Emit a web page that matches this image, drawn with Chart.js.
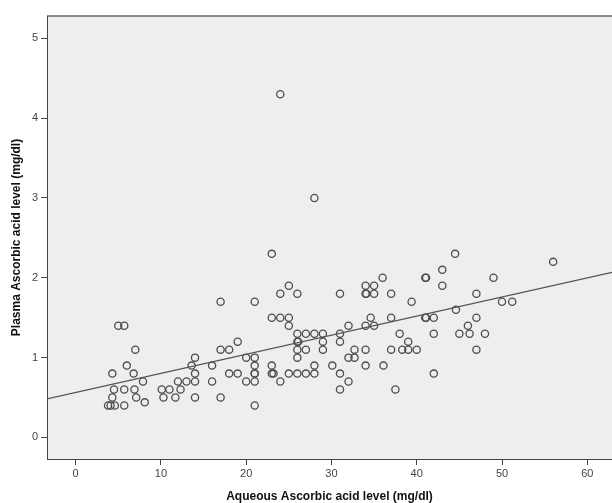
<!DOCTYPE html>
<html lang="en">
<head>
    <meta charset="UTF-8">
    <title>Plasma vs Aqueous Ascorbic acid</title>
    <style>
        * {
            margin: 0;
            padding: 0;
            box-sizing: border-box;
        }
        body {
            background: #ffffff;
        }
        #chart {
            display: block;
        }
    </style>
</head>
<body>
    <canvas id="chart" width="612" height="503"></canvas>

    <script src="https://cdn.jsdelivr.net/npm/chart.js"></script>
    <script>
        // values
        const aqueous = [
            3.8, 4.1, 4.6, 5.7, 4.3, 7.1, 8.1, 4.5, 5.7, 6.9, 7.9, 4.3, 6.8, 6, 7, 5, 5.7,
            10.1, 11, 12.3, 10.3, 11.7, 14, 17, 12, 13, 14, 16, 14, 13.6, 16, 14, 17, 18, 17, 19, 18, 19,
            20, 21, 24, 21, 20, 21, 21, 23, 28, 21, 21, 23, 23.2, 25, 26, 27, 28, 21, 23, 25, 24, 26,
            23, 24, 25, 25, 26, 27, 28, 29, 26, 26.1, 29, 26, 27, 29, 26, 24, 28,
            30.1, 31, 34, 35, 34, 34.1, 35, 36, 34.6, 32, 34, 35, 31, 31, 32.7, 34, 32, 32.7, 34, 31, 32, 31,
            37, 39.4, 37, 38, 39, 37, 38.3, 39, 40, 36.1, 37.5,
            41, 41.1, 41, 41.1, 42, 42, 42, 43, 43, 44.5, 44.6, 45, 46, 46.2, 47, 47, 47, 48, 49, 50, 51.2, 56
        ];
        const plasma = [
            0.4, 0.4, 0.4, 0.4, 0.5, 0.5, 0.44, 0.6, 0.6, 0.6, 0.7, 0.8, 0.8, 0.9, 1.1, 1.4, 1.4,
            0.6, 0.6, 0.6, 0.5, 0.5, 0.5, 0.5, 0.7, 0.7, 0.7, 0.7, 0.8, 0.9, 0.9, 1.0, 1.1, 1.1, 1.7, 1.2, 0.8, 0.8,
            0.7, 0.7, 0.7, 0.4, 1.0, 1.0, 0.9, 0.9, 0.9, 0.8, 0.8, 0.8, 0.8, 0.8, 0.8, 0.8, 0.8, 1.7, 2.3, 1.9, 1.8, 1.8,
            1.5, 1.5, 1.5, 1.4, 1.3, 1.3, 1.3, 1.3, 1.2, 1.2, 1.2, 1.1, 1.1, 1.1, 1.0, 4.3, 3.0,
            0.9, 1.8, 1.9, 1.9, 1.8, 1.8, 1.8, 2.0, 1.5, 1.4, 1.4, 1.4, 1.3, 1.2, 1.1, 1.1, 1.0, 1.0, 0.9, 0.8, 0.7, 0.6,
            1.8, 1.7, 1.5, 1.3, 1.2, 1.1, 1.1, 1.1, 1.1, 0.9, 0.6,
            2.0, 2.0, 1.5, 1.5, 1.5, 1.3, 0.8, 2.1, 1.9, 2.3, 1.6, 1.3, 1.4, 1.3, 1.8, 1.5, 1.1, 1.3, 2.0, 1.7, 1.7, 2.2
        ];
        const xTicks = [0, 10, 20, 30, 40, 50, 60];
        const yTicks = [0, 1, 2, 3, 4, 5];

        // fit line as seen in the picture
        const fitIntercept = 0.564;
        const fitSlope = 0.0239;

        const xMin = -3.36, xMax = 62.9;
        const yMin = -0.27, yMax = 5.28;

        const points = aqueous.map((x, i) => ({ x: x, y: plasma[i] }));
        const fitLine = [xMin, xMax].map(x => ({ x: x, y: fitIntercept + fitSlope * x }));

        // grey plot background and top border
        const plotFrame = {
            id: 'plotFrame',
            beforeDraw(chart) {
                const a = chart.chartArea;
                const ctx = chart.ctx;
                ctx.save();
                ctx.fillStyle = '#eeeeee';
                ctx.fillRect(a.left, a.top, a.right - a.left, a.bottom - a.top);
                ctx.strokeStyle = '#8a8a8a';
                ctx.lineWidth = 2;
                ctx.beginPath();
                ctx.moveTo(a.left, a.top);
                ctx.lineTo(a.right, a.top);
                ctx.stroke();
                ctx.restore();
            }
        };

        const tickFont = { family: 'Liberation Sans, Arial, sans-serif', size: 11 };
        const titleFont = { family: 'Liberation Sans, Arial, sans-serif', size: 12, weight: 'bold', lineHeight: 1 };

        new Chart(document.getElementById('chart'), {
            type: 'scatter',
            data: {
                datasets: [
                    {
                        label: 'Fit',
                        type: 'line',
                        data: fitLine,
                        borderColor: '#555555',
                        borderWidth: 1.3,
                        pointRadius: 0,
                        fill: false
                    },
                    {
                        label: 'Plasma',
                        data: points,
                        pointRadius: 3.6,
                        pointBorderWidth: 1.3,
                        pointBorderColor: '#4d4d4d',
                        pointBackgroundColor: 'rgba(0,0,0,0)'
                    }
                ]
            },
            options: {
                responsive: false,
                animation: false,
                layout: { autoPadding: false, padding: { top: 16, right: 0, left: 0, bottom: 0 } },
                plugins: {
                    legend: { display: false },
                    tooltip: { enabled: false }
                },
                scales: {
                    x: {
                        type: 'linear',
                        min: xMin,
                        max: xMax,
                        afterBuildTicks: s => { s.ticks = xTicks.map(v => ({ value: v })); },
                        afterFit: s => { s.height = 44; s.paddingLeft = 0; s.paddingRight = 0; },
                        grid: { drawOnChartArea: false, drawTicks: true, tickLength: 6, color: '#444444' },
                        border: { color: '#444444', width: 1 },
                        ticks: { font: tickFont, color: '#444444', padding: 2, maxRotation: 0 },
                        title: { display: true, text: 'Aqueous Ascorbic acid level (mg/dl)', font: titleFont, color: '#111111', padding: 0 }
                    },
                    y: {
                        type: 'linear',
                        min: yMin,
                        max: yMax,
                        afterBuildTicks: s => { s.ticks = yTicks.map(v => ({ value: v })); },
                        afterFit: s => { s.width = 47; s.paddingTop = 0; s.paddingBottom = 0; },
                        grid: { drawOnChartArea: false, drawTicks: true, tickLength: 6, color: '#444444' },
                        border: { color: '#444444', width: 1 },
                        ticks: { font: tickFont, color: '#444444', padding: 3 },
                        title: { display: true, text: 'Plasma Ascorbic acid level (mg/dl)', font: titleFont, color: '#111111', padding: { top: 11, bottom: 0 } }
                    }
                }
            },
            plugins: [plotFrame]
        });
    </script>
</body>
</html>
